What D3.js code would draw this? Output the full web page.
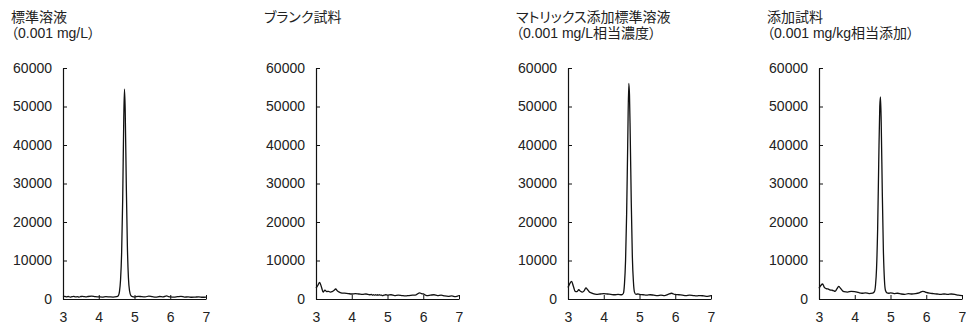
<!DOCTYPE html>
<html>
<head>
<meta charset="utf-8">
<script src="https://cdn.jsdelivr.net/npm/d3@7/dist/d3.min.js"></script>
<style>
  html, body { margin: 0; padding: 0; background: #fff; }
  svg { display: block; }
  .title { font-family: "Liberation Sans", "Noto Sans CJK JP", sans-serif; font-size: 14px; fill: #222; font-feature-settings: "palt"; }
  .axis text { font-family: "Liberation Sans", Arial, sans-serif; font-size: 14px; fill: #222; }
  .axis path, .axis line { stroke: #111; }
</style>
</head>
<body>
<svg id="chart" width="966" height="331"></svg>
<script>
// ---- data ----
const titles = [
  ["標準溶液", "（0.001 mg/L）"],
  ["ブランク試料"],
  ["マトリックス添加標準溶液", "（0.001 mg/L相当濃度）"],
  ["添加試料", "（0.001 mg/kg相当添加）"]
];
const xTicks = [3, 4, 5, 6, 7];
const yTicks = [0, 10000, 20000, 30000, 40000, 50000, 60000];

const time = [3.00,3.05,3.10,3.15,3.20,3.25,3.30,3.35,3.40,3.45,3.50,3.55,3.60,3.65,3.70,
  3.80,3.90,4.00,4.10,4.20,4.30,4.40,4.50,
  4.55,4.58,4.61,4.64,4.67,4.70,4.72,4.74,4.77,4.80,4.83,4.86,4.90,4.95,
  5.00,5.10,5.20,5.30,5.40,5.50,5.60,5.70,5.80,5.90,5.95,6.00,
  6.10,6.20,6.30,6.40,6.50,6.60,6.70,6.80,6.90,7.00];

const standardSignal = [600,700,550,650,500,600,700,550,600,500,650,700,600,550,650,
  750,600,550,500,600,550,500,600,
  900,2000,5000,12000,26000,47000,54500,49000,30000,14000,5500,2200,900,600,
  500,700,600,550,750,600,500,650,550,800,600,550,
  500,600,700,500,550,450,500,550,450,500];

const blankSignal = [2800,3500,4300,3200,1800,2300,1900,2000,1800,1900,2200,2600,2100,1800,1600,
  1500,1400,1300,1400,1300,1200,1300,1100,
  1200,1000,1100,1000,1100,1000,1100,1000,1100,1000,1000,900,1000,1100,
  1000,1100,900,1000,900,800,900,1000,1100,1600,1400,1300,
  900,1000,1100,900,1000,800,700,800,600,900];

const matrixSignal = [3000,4000,4600,3300,2000,1900,2400,2000,1800,2100,2900,2400,1800,1600,1400,
  1200,1300,1400,1300,1200,1100,1200,1100,
  1500,4000,10000,22000,40000,56000,53000,43000,25000,11000,4500,1800,1200,1300,
  1200,1100,1000,1100,1000,900,1000,900,1200,1500,1300,1200,
  1100,1000,900,1000,900,800,900,800,700,900];

const spikedSignal = [2800,3500,3900,3000,2700,2600,2400,2300,2200,2000,2600,3300,2800,2200,1900,
  1800,2000,1900,1700,1500,1600,1400,1500,
  1900,3500,8000,18000,35000,50000,52500,46000,28000,13000,5000,2200,1600,1500,
  1600,1400,1500,1300,1200,1400,1300,1400,1600,2000,1900,1700,
  1500,1400,1300,1200,1300,1200,1300,1200,1000,900];

const signals = [standardSignal, blankSignal, matrixSignal, spikedSignal];

// ---- layout ----
const axisLefts = [63, 316, 568, 819];
const plotW = 143, plotTop = 68, plotBottom = 299;

const svg = d3.select("#chart");

signals.forEach((sig, i) => {
  const x = d3.scaleLinear().domain([3, 7]).range([axisLefts[i], axisLefts[i] + plotW]);
  const y = d3.scaleLinear().domain([0, 60000]).range([plotBottom, plotTop]);

  // title lines
  titles[i].forEach((line, k) => {
    svg.append("text").attr("class", "title")
      .attr("x", axisLefts[i] - 52).attr("y", 22 + k * 16)
      .text(line);
  });

  // axes
  svg.append("g").attr("class", "axis")
    .attr("transform", `translate(${axisLefts[i]},0)`)
    .call(d3.axisLeft(y).tickValues(yTicks).tickFormat(d3.format("d"))
      .tickSizeInner(-4).tickSizeOuter(0).tickPadding(11));

  svg.append("g").attr("class", "axis")
    .attr("transform", `translate(0,${plotBottom})`)
    .call(d3.axisBottom(x).tickValues(xTicks).tickFormat(d3.format("d"))
      .tickSizeInner(-4).tickSizeOuter(0).tickPadding(13));

  // trace
  const line = d3.line()
    .x((d, j) => x(time[j]))
    .y(d => y(d))
    .curve(d3.curveMonotoneX);

  svg.append("path")
    .datum(sig)
    .attr("fill", "none")
    .attr("stroke", "#111")
    .attr("stroke-width", 1.3)
    .attr("stroke-linejoin", "round")
    .attr("d", line);
});

svg.selectAll(".axis .domain").attr("stroke-width", 1.2);
</script>
</body>
</html>
